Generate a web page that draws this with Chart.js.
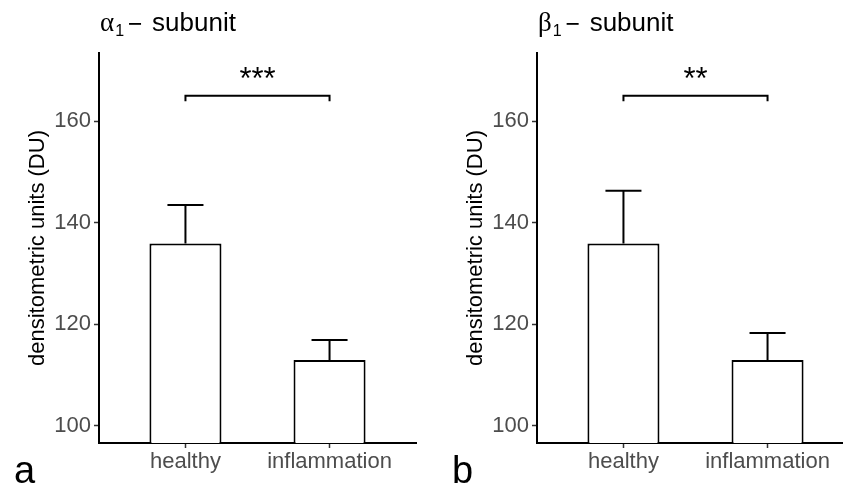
<!DOCTYPE html>
<html>
<head>
<meta charset="utf-8">
<script src="https://cdn.jsdelivr.net/npm/chart.js@4.4.1/dist/chart.umd.min.js"></script>
<style>
  html, body { margin: 0; padding: 0; background: #fff; overflow: hidden; }
  .panel { position: absolute; top: 0; }
</style>
</head>
<body>
<canvas id="panelA" class="panel" width="438" height="486" style="left:0px"></canvas>
<canvas id="panelB" class="panel" width="438" height="486" style="left:438px"></canvas>
<script>
// ---- data ----
const groups = ["healthy", "inflammation"];
const yTicks = [100, 120, 140, 160];

const alphaMeans = [135.9, 113.0];
const alphaErrors = [7.6, 3.9];
const alphaStars = "***";

const betaMeans = [135.9, 113.0];
const betaErrors = [10.4, 5.3];
const betaStars = "**";

const bracketLevel = 165;
const bracketDrop = 1.1;

const FONT = "'Liberation Sans', Arial, sans-serif";
const LINE = 2;

/**
 * Plugin: upward-only error bars on top of each bar
 */
const errorBarsPlugin = {
  id: "errorBars",
  afterDatasetsDraw(chart, args, opts) {
    const { ctx, scales } = chart;
    const meta = chart.getDatasetMeta(0);
    const means = chart.data.datasets[0].data;
    ctx.save();
    ctx.strokeStyle = "#000";
    ctx.lineWidth = LINE;
    meta.data.forEach((bar, i) => {
      const yTop = scales.y.getPixelForValue(means[i].y + opts.errors[i]);
      const half = bar.width / 4;
      ctx.beginPath();
      ctx.moveTo(bar.x, bar.y);
      ctx.lineTo(bar.x, yTop);
      ctx.moveTo(bar.x - half, yTop);
      ctx.lineTo(bar.x + half, yTop);
      ctx.stroke();
    });
    ctx.restore();
  },
};

/**
 * Plugin: significance bracket, panel heading and panel letter
 */
const annotationPlugin = {
  id: "panelAnnotations",
  afterDraw(chart, args, opts) {
    const { ctx, scales, chartArea } = chart;
    const x1 = scales.x.getPixelForValue(1);
    const x2 = scales.x.getPixelForValue(2);
    const yb = scales.y.getPixelForValue(bracketLevel);
    const yd = scales.y.getPixelForValue(bracketLevel - bracketDrop);

    ctx.save();
    ctx.strokeStyle = "#000";
    ctx.lineWidth = LINE;
    ctx.beginPath();
    ctx.moveTo(x1, yd);
    ctx.lineTo(x1, yb);
    ctx.lineTo(x2, yb);
    ctx.lineTo(x2, yd);
    ctx.stroke();

    ctx.fillStyle = "#000";
    ctx.textAlign = "center";
    ctx.textBaseline = "alphabetic";
    ctx.font = `31px ${FONT}`;
    ctx.fillText(opts.stars, (x1 + x2) / 2, yb - 7);

    // heading: greek letter + subscript + " – subunit"
    ctx.textAlign = "left";
    let x = chartArea.left + 1;
    const base = 31;
    ctx.font = "27px 'Liberation Serif', 'DejaVu Serif', serif";
    ctx.fillText(opts.greek, x, base);
    x += ctx.measureText(opts.greek).width + 1;
    ctx.font = `16px ${FONT}`;
    ctx.fillText("1", x, base + 5);
    x += ctx.measureText("1").width + 5;
    ctx.font = `26px ${FONT}`;
    ctx.fillRect(x, base - 8, 12, 1.8);
    x += 12 + 11;
    ctx.fillText("subunit", x, base);

    // panel letter
    ctx.font = `38px ${FONT}`;
    ctx.fillText(opts.letter, 14, 483);
    ctx.restore();
  },
};

/**
 * Helper: config for one bar panel
 */
function buildPanelConfig(means, errors, stars, greek, letter) {
  return {
    type: "bar",
    data: {
      datasets: [
        {
          data: means.map((m, i) => ({ x: i + 1, y: m })),
          backgroundColor: "#ffffff",
          borderColor: "#000000",
          borderWidth: LINE,
          barPercentage: 0.5,
          categoryPercentage: 1,
        },
      ],
    },
    options: {
      responsive: false,
      animation: false,
      devicePixelRatio: 1,
      layout: { padding: { top: 53, right: 22, left: 0, bottom: 0 } },
      plugins: {
        legend: { display: false },
        tooltip: { enabled: false },
        errorBars: { errors },
        panelAnnotations: { stars, greek, letter },
      },
      scales: {
        x: {
          type: "linear",
          offset: false,
          min: 0.4,
          max: 2.6,
          afterBuildTicks: scale => {
            scale.ticks = groups.map((_, i) => ({ value: i + 1 }));
          },
          afterFit: scale => { scale.height = 43; },
          ticks: {
            callback: v => groups[v - 1],
            color: "#4d4d4d",
            font: { family: FONT, size: 22 },
            padding: 1,
            maxRotation: 0,
            autoSkip: false,
          },
          grid: { offset: false, drawOnChartArea: false, tickLength: 5, tickColor: "#333", tickWidth: 1.5 },
          border: { display: true, color: "#000", width: LINE },
        },
        y: {
          min: 96.65,
          max: 173.4,
          afterBuildTicks: scale => {
            scale.ticks = yTicks.map(v => ({ value: v }));
          },
          afterFit: scale => { scale.width = 99; },
          ticks: {
            color: "#4d4d4d",
            font: { family: FONT, size: 22 },
            padding: 3,
          },
          grid: { drawOnChartArea: false, tickLength: 5, tickColor: "#333", tickWidth: 1.5 },
          border: { display: true, color: "#000", width: LINE },
          title: {
            display: true,
            text: "densitometric units (DU)",
            color: "#000",
            font: { family: FONT, size: 22 },
            padding: { top: 25, bottom: 0 },
          },
        },
      },
    },
    plugins: [errorBarsPlugin, annotationPlugin],
  };
}

function renderPanel(canvasId, means, errors, stars, greek, letter) {
  const canvas = document.getElementById(canvasId);
  if (!canvas) return;
  new Chart(canvas.getContext("2d"), buildPanelConfig(means, errors, stars, greek, letter));
}

renderPanel("panelA", alphaMeans, alphaErrors, alphaStars, "\u03B1", "a");
renderPanel("panelB", betaMeans, betaErrors, betaStars, "\u03B2", "b");
</script>
</body>
</html>
